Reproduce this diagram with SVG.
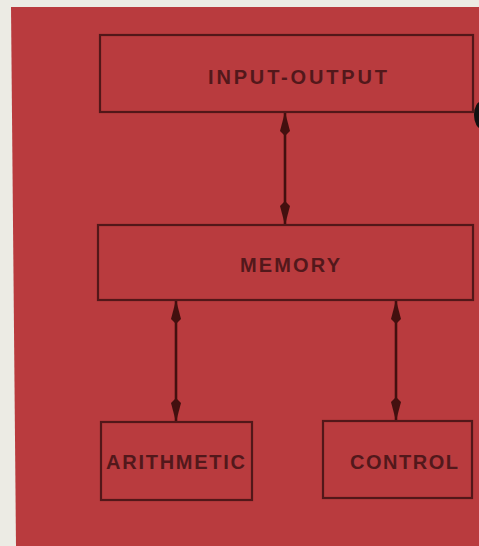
<svg xmlns="http://www.w3.org/2000/svg" width="479" height="546" viewBox="0 0 479 546">
<defs>
<style>
.box{fill:none;stroke:#521719;stroke-width:2.2}
.lbl{font-family:"Liberation Sans",Arial,sans-serif;font-size:20px;font-weight:bold;fill:#52181b;text-anchor:middle}
.conn{stroke:#43100f;stroke-width:2.6;fill:none;marker-start:url(#ah);marker-end:url(#ah)}
</style>
<marker id="ah" viewBox="0 0 24 12" refX="23" refY="6" markerWidth="24" markerHeight="12" markerUnits="userSpaceOnUse" orient="auto-start-reverse">
<path d="M0,6 L5,1 L24,6 L5,11 Z" fill="#43100f"/>
</marker>
</defs>
<rect width="479" height="546" fill="#ecebe4"/>
<path d="M11,7 L479,7 L479,546 L16,546 Z" fill="#b93b3e"/>
<ellipse cx="482" cy="115" rx="8" ry="14" fill="#111"/>
<g id="connectors">
<line class="conn" x1="285" y1="113" x2="285" y2="224"/>
<line class="conn" x1="176" y1="301" x2="176" y2="421"/>
<line class="conn" x1="396" y1="301" x2="396" y2="420"/>
</g>
<g id="input-output">
<rect class="box" x="100" y="35" width="373" height="77"/>
<text class="lbl" x="297.5" y="84" textLength="179" lengthAdjust="spacing">INPUT-OUTPUT</text>
</g>
<g id="memory">
<rect class="box" x="98" y="225" width="375" height="75"/>
<text class="lbl" x="290" y="272" textLength="100" lengthAdjust="spacing">MEMORY</text>
</g>
<g id="arithmetic">
<rect class="box" x="101" y="422" width="151" height="78"/>
<text class="lbl" x="175.5" y="469" textLength="139" lengthAdjust="spacing">ARITHMETIC</text>
</g>
<g id="control">
<rect class="box" x="323" y="421" width="149" height="77"/>
<text class="lbl" x="404" y="469" textLength="108" lengthAdjust="spacing">CONTROL</text>
</g>
</svg>
